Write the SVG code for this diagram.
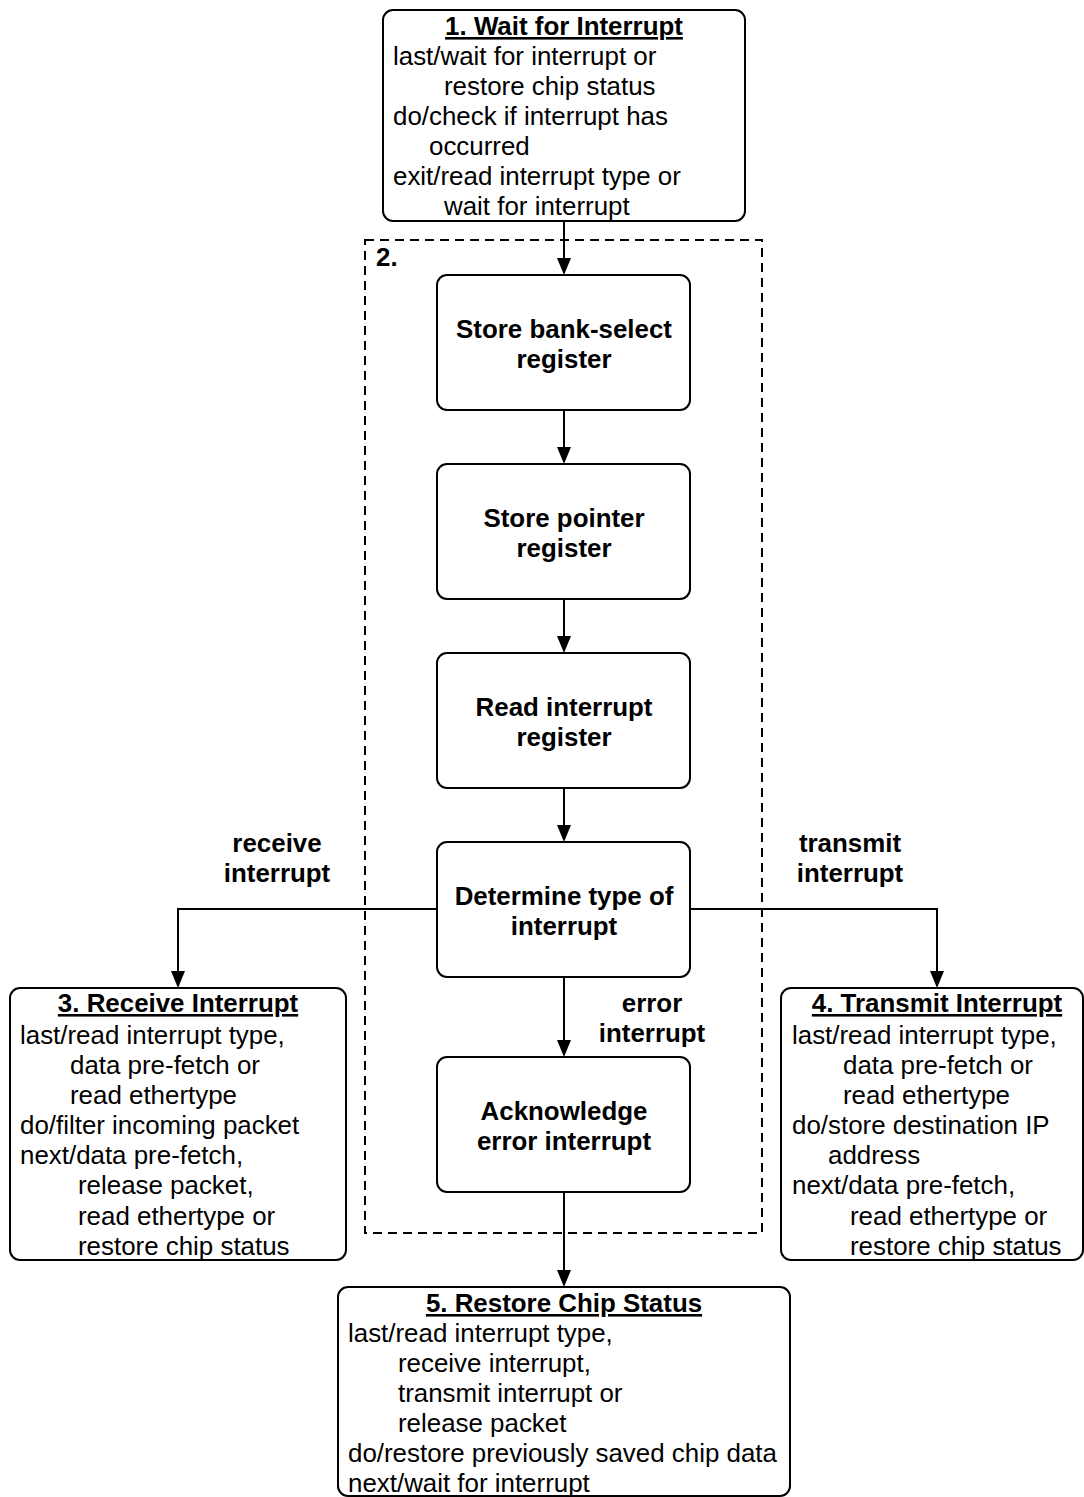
<svg xmlns="http://www.w3.org/2000/svg" width="1084" height="1497" viewBox="0 0 1084 1497">
<style>
.box{fill:#fff;stroke:#000;stroke-width:2}
.t{font-family:"Liberation Sans",Arial,sans-serif;font-size:25.9px;fill:#000}
.b{font-weight:bold}
.c{text-anchor:middle}
.u{text-decoration:underline}
.ln{fill:none;stroke:#000;stroke-width:2}
</style>
<rect width="1084" height="1497" fill="#fff"/>
<g id="group2">
<rect x="365" y="240" width="397" height="993" fill="none" stroke="#000" stroke-width="2" stroke-dasharray="9,6"/>
<text class="t b" x="376" y="266">2.</text>
</g>
<g id="connectors">
<path class="ln" d="M564,221 V259"/>
<path class="ln" d="M564,410 V448"/>
<path class="ln" d="M564,599 V637"/>
<path class="ln" d="M564,788 V826"/>
<path class="ln" d="M564,977 V1041"/>
<path class="ln" d="M564,1192 V1271"/>
<path class="ln" d="M437,909 H178 V972"/>
<path class="ln" d="M690,909 H937 V972"/>
<path d="M557,258 L571,258 L564,275 z"/>
<path d="M557,447 L571,447 L564,464 z"/>
<path d="M557,636 L571,636 L564,653 z"/>
<path d="M557,825 L571,825 L564,842 z"/>
<path d="M557,1040 L571,1040 L564,1057 z"/>
<path d="M557,1270 L571,1270 L564,1287 z"/>
<path d="M171,971 L185,971 L178,988 z"/>
<path d="M930,971 L944,971 L937,988 z"/>
<text class="t b c" x="277" y="852">receive</text>
<text class="t b c" x="277" y="882">interrupt</text>
<text class="t b c" x="850" y="852">transmit</text>
<text class="t b c" x="850" y="882">interrupt</text>
<text class="t b c" x="652" y="1012">error</text>
<text class="t b c" x="652" y="1042">interrupt</text>
</g>
<g id="state1">
<rect class="box" x="383" y="10" width="362" height="211" rx="10"/>
<text class="t b c u" x="564" y="35">1. Wait for Interrupt</text>
<text class="t" x="393" y="65">last/wait for interrupt or</text>
<text class="t" x="444" y="95">restore chip status</text>
<text class="t" x="393" y="125">do/check if interrupt has</text>
<text class="t" x="429" y="155">occurred</text>
<text class="t" x="393" y="185">exit/read interrupt type or</text>
<text class="t" x="444" y="215">wait for interrupt</text>
</g>
<g id="storeBank">
<rect class="box" x="437" y="275" width="253" height="135" rx="10"/>
<text class="t b c" x="564" y="338">Store bank-select</text>
<text class="t b c" x="564" y="368">register</text>
</g>
<g id="storePointer">
<rect class="box" x="437" y="464" width="253" height="135" rx="10"/>
<text class="t b c" x="564" y="527">Store pointer</text>
<text class="t b c" x="564" y="557">register</text>
</g>
<g id="readInterrupt">
<rect class="box" x="437" y="653" width="253" height="135" rx="10"/>
<text class="t b c" x="564" y="716">Read interrupt</text>
<text class="t b c" x="564" y="746">register</text>
</g>
<g id="determineType">
<rect class="box" x="437" y="842" width="253" height="135" rx="10"/>
<text class="t b c" x="564" y="905">Determine type of</text>
<text class="t b c" x="564" y="935">interrupt</text>
</g>
<g id="ackError">
<rect class="box" x="437" y="1057" width="253" height="135" rx="10"/>
<text class="t b c" x="564" y="1120">Acknowledge</text>
<text class="t b c" x="564" y="1150">error interrupt</text>
</g>
<g id="state3">
<rect class="box" x="10" y="988" width="336" height="272" rx="10"/>
<text class="t b c u" x="178" y="1012">3. Receive Interrupt</text>
<text class="t" x="20" y="1044">last/read interrupt type,</text>
<text class="t" x="70" y="1074">data pre-fetch or</text>
<text class="t" x="70" y="1104">read ethertype</text>
<text class="t" x="20" y="1134">do/filter incoming packet</text>
<text class="t" x="20" y="1164">next/data pre-fetch,</text>
<text class="t" x="78" y="1194">release packet,</text>
<text class="t" x="78" y="1225">read ethertype or</text>
<text class="t" x="78" y="1255">restore chip status</text>
</g>
<g id="state4">
<rect class="box" x="781" y="988" width="302" height="272" rx="10"/>
<text class="t b c u" x="937" y="1012">4. Transmit Interrupt</text>
<text class="t" x="792" y="1044">last/read interrupt type,</text>
<text class="t" x="843" y="1074">data pre-fetch or</text>
<text class="t" x="843" y="1104">read ethertype</text>
<text class="t" x="792" y="1134">do/store destination IP</text>
<text class="t" x="828" y="1164">address</text>
<text class="t" x="792" y="1194">next/data pre-fetch,</text>
<text class="t" x="850" y="1225">read ethertype or</text>
<text class="t" x="850" y="1255">restore chip status</text>
</g>
<g id="state5">
<rect class="box" x="338" y="1287" width="452" height="209" rx="10"/>
<text class="t b c u" x="564" y="1312">5. Restore Chip Status</text>
<text class="t" x="348" y="1342">last/read interrupt type,</text>
<text class="t" x="398" y="1372">receive interrupt,</text>
<text class="t" x="398" y="1402">transmit interrupt or</text>
<text class="t" x="398" y="1432">release packet</text>
<text class="t" x="348" y="1462">do/restore previously saved chip data</text>
<text class="t" x="348" y="1492">next/wait for interrupt</text>
</g>
</svg>
